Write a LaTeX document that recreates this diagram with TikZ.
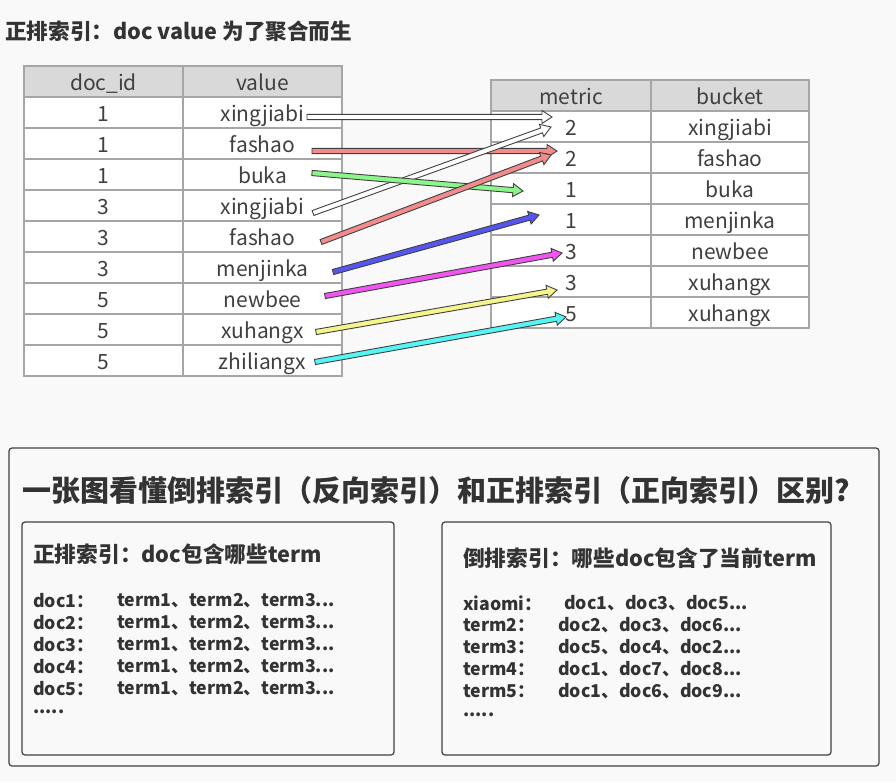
\documentclass[tikz,border=0pt]{standalone}
\usepackage{fontspec}
\setmainfont{Noto Sans CJK SC}
\usetikzlibrary{calc}
\definecolor{inkdark}{HTML}{333333}
\definecolor{inkgray}{HTML}{404040}
\definecolor{gridgray}{HTML}{A6A6A6}
\definecolor{headgray}{HTML}{D9D9D9}
\definecolor{pagebg}{HTML}{F9F9F9}
\definecolor{arrowred}{HTML}{F28C8C}
\definecolor{arrowgreen}{HTML}{8CF58C}
\definecolor{arrowblue}{HTML}{5555F0}
\definecolor{arrowpink}{HTML}{F055F0}
\definecolor{arrowyellow}{HTML}{F5F58C}
\definecolor{arrowcyan}{HTML}{55F5F5}
\tikzset{
  cell/.style={draw=gridgray, line width=1.2pt, fill=white, minimum height=31pt,
               inner sep=0pt, text height=18.5pt, text depth=1pt,
               font=\fontsize{21}{21}\selectfont, text=inkgray},
  headcell/.style={cell, fill=headgray},
  panel/.style={draw=inkgray, line width=1.2pt, rounded corners=3pt},
  heading/.style={font=\fontsize{#1}{#1}\selectfont\bfseries, text=inkdark, anchor=west, inner sep=0pt},
  heading/.default=21.7,
  entry/.style={font=\fontsize{17.7}{17.7}\selectfont\bfseries, text=inkdark, anchor=west, inner sep=0pt},
}
\newcommand{\trail}{...}
% thick outlined arrow: fill colour, tail, tip
\newcommand{\fatarrow}[3]{%
  \coordinate (neck) at ($(#3)!10pt!(#2)$);
  \filldraw[fill=#1, draw=inkgray, line width=0.9pt, line join=miter]
    ($(#2)!2.6pt!90:(#3)$) -- ($(neck)!2.6pt!90:(#3)$) -- ($(neck)!6.5pt!90:(#3)$) -- (#3)
    -- ($(neck)!6.5pt!-90:(#3)$) -- ($(neck)!2.6pt!-90:(#3)$) -- ($(#2)!2.6pt!-90:(#3)$) -- cycle;
}

\begin{document}
\begin{tikzpicture}[x=1pt, y=-1pt]
  \fill[pagebg] (0,0) rectangle (896,782);
  \useasboundingbox (0,0) rectangle (896,782);

  \node[heading=21.6] (fwdtitle) at (5,31) {正排索引：doc value 为了聚合而生};

  % forward table
  \node[headcell, minimum width=159pt] (lh-1) at (103.5,81.5) {doc\_id};
  \node[headcell, minimum width=159pt] (lh-2) at (262.5,81.5) {value};
  \foreach \id/\val [count=\i] in {1/xingjiabi, 1/fashao, 1/buka, 3/xingjiabi, 3/fashao,
                                   3/menjinka, 5/newbee, 5/xuhangx, 5/zhiliangx} {
    \node[cell, minimum width=159pt] (lid-\i) at (103.5,{81.5+31*\i}) {\id};
    \node[cell, minimum width=159pt] (lval-\i) at (262.5,{81.5+31*\i}) {\val};
  }

  % aggregated table
  \node[headcell, minimum width=160pt] (rh-1) at (571,95.5) {metric};
  \node[headcell, minimum width=158pt] (rh-2) at (730,95.5) {bucket};
  \foreach \num/\bkt [count=\i] in {2/xingjiabi, 2/fashao, 1/buka, 1/menjinka,
                                    3/newbee, 3/xuhangx, 5/xuhangx} {
    \node[cell, minimum width=160pt] (rm-\i) at (571,{95.5+31*\i}) {\num};
    \node[cell, minimum width=158pt] (rb-\i) at (730,{95.5+31*\i}) {\bkt};
  }

  % arrow ends
  \coordinate (t1) at (307,117);  \coordinate (h1) at (552,117);
  \coordinate (t2) at (312,151);  \coordinate (h2) at (557,151);
  \coordinate (t3) at (312,173);  \coordinate (h3) at (523,191);
  \coordinate (t4) at (313,213);  \coordinate (h4) at (551,127);
  \coordinate (t5) at (321,242);  \coordinate (h5) at (551,155);
  \coordinate (t6) at (333,272);  \coordinate (h6) at (539,215);
  \coordinate (t7) at (325,296);  \coordinate (h7) at (562,253);
  \coordinate (t8) at (316,332);  \coordinate (h8) at (557,290);
  \coordinate (t9) at (315,362);  \coordinate (h9) at (566,317);
  \fatarrow{white}{t1}{h1}
  \fatarrow{arrowred}{t2}{h2}
  \fatarrow{white}{t4}{h4}
  \fatarrow{arrowgreen}{t3}{h3}
  \fatarrow{arrowred}{t5}{h5}
  \fatarrow{arrowblue}{t6}{h6}
  \fatarrow{arrowpink}{t7}{h7}
  \fatarrow{arrowyellow}{t8}{h8}
  \fatarrow{arrowcyan}{t9}{h9}

  % comparison panel
  \draw[panel] (9,448) rectangle (879,766);
  \node[heading=29] (cmptitle) at (22,490) {一张图看懂倒排索引（反向索引）和正排索引（正向索引）区别?};
  \draw[panel] (22,522) rectangle (394,755);
  \draw[panel] (442,522) rectangle (831,755);

  \node[heading] (fwdhead) at (33,554) {正排索引：doc包含哪些term};
  \foreach \k [count=\i] in {doc1, doc2, doc3, doc4, doc5} {
    \node[entry] (fk-\i) at (33,{579+22*\i}) {\k：};
    \node[entry] (fv-\i) at (117,{579+22*\i}) {term1、term2、term3\trail};
  }
  \node[entry] (fmore) at (33,712) {.....};

  \node[heading] (invhead) at (463,558) {倒排索引：哪些doc包含了当前term};
  \foreach \k/\x/\v [count=\i] in {xiaomi/564/doc1、doc3、doc5\trail, term2/558/doc2、doc3、doc6\trail,
                                   term3/558/doc5、doc4、doc2\trail, term4/558/doc1、doc7、doc8\trail,
                                   term5/558/doc1、doc6、doc9\trail} {
    \node[entry] (ik-\i) at (463,{581+22*\i}) {\k：};
    \node[entry] (iv-\i) at (\x,{581+22*\i}) {\v};
  }
  \node[entry] (imore) at (463,715) {.....};
\end{tikzpicture}
\end{document}
